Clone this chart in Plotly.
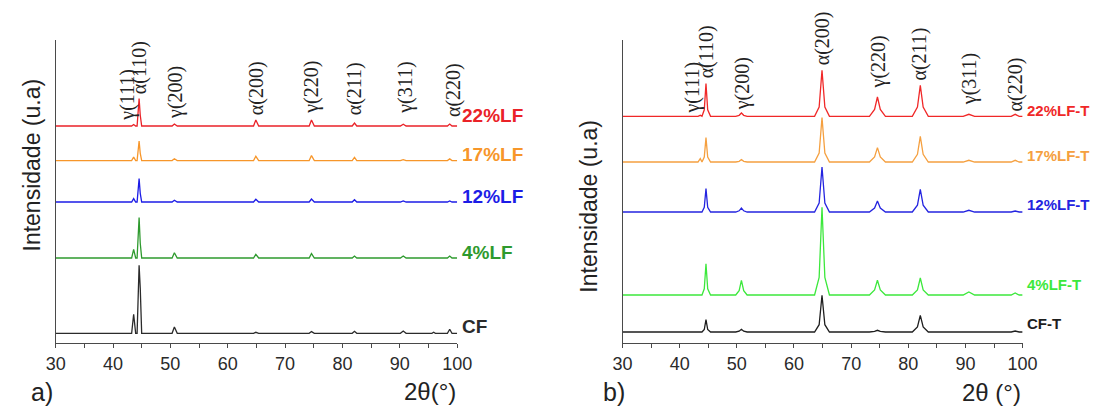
import plotly.graph_objects as go

# ---------------- data: panel a (as-received) ----------------
two_theta_a = [30, 43.25, 43.6, 43.95, 44.2, 44.55, 44.75, 45.0, 50.3, 50.7, 51.2,
               64.5, 64.9, 65.4, 74.2, 74.6, 75.1, 81.7, 82.1, 82.5, 90.1, 90.6, 91.1,
               95.6, 95.9, 96.2, 98.3, 98.7, 99.1, 100]
int_cf = [10, 10, 29, 10, 10, 78, 55, 10, 10, 16.3, 10, 10, 11, 10, 10, 11.7, 10, 10, 12, 10,
          10, 12.3, 10, 10, 11, 10, 10, 14, 10, 10]
int_4lf = [85.3, 85.3, 94, 85.3, 85.3, 125.7, 100, 85.3, 85.3, 90.5, 85.3, 85.3, 89, 85.3, 85.3,
           89.7, 85.3, 85.3, 87.3, 85.3, 85.3, 87.3, 85.3, 85.3, 85.3, 85.3, 85.3, 87.3, 85.3, 85.3]
int_12lf = [141.3, 141.3, 144.7, 141.3, 141.3, 164.7, 150, 141.3, 141.3, 143, 141.3, 141.3, 144,
            141.3, 141.3, 144.3, 141.3, 141.3, 143.6, 141.3, 141.3, 142.3, 141.3, 141.3, 141.3,
            141.3, 141.3, 142.3, 141.3, 141.3]
int_17lf = [182.7, 182.7, 186.3, 182.7, 182.7, 202.3, 190, 182.7, 182.7, 184.5, 182.7, 182.7, 187,
            182.7, 182.7, 187.7, 182.7, 182.7, 186, 182.7, 182.7, 183.7, 182.7, 182.7, 182.7,
            182.7, 182.7, 184.4, 182.7, 182.7]
int_22lf = [217.3, 217.3, 218.8, 217.3, 217.3, 244.7, 228, 217.3, 217.3, 219.3, 217.3, 217.3,
            223.3, 217.3, 217.3, 223.3, 217.3, 217.3, 220.3, 217.3, 217.3, 219, 217.3, 217.3,
            217.3, 217.3, 217.3, 219.3, 217.3, 217.3]

# ---------------- data: panel b (treated, -T) ----------------
two_theta_b = [30, 43.2, 43.6, 43.9, 44.3, 44.6, 44.9, 45.4, 49.8, 50.4, 50.8, 51.2, 51.8,
               63.6, 64.4, 64.9, 65.4, 66.2, 73.2, 74.1, 74.6, 75.1, 76.0, 80.7, 81.6, 82.1,
               82.6, 83.5, 89.6, 90.6, 91.6, 98.0, 98.7, 99.4, 100]
int_cf_t = [11.3, 11.3, 11.3, 11.3, 13.8, 23.7, 13.8, 11.3, 11.3, 12.1, 14, 12.1, 11.3, 11.3,
            18.6, 48, 18.6, 11.3, 11.3, 11.9, 13, 11.9, 11.3, 11.3, 16.3, 28, 16.3, 11.3, 11.3,
            11.5, 11.3, 11.3, 12.3, 11.3, 11.3]
int_4lf_t = [48.3, 48.3, 48.3, 48.3, 54.5, 79.5, 54.5, 48.3, 48.3, 52.7, 63, 52.7, 48.3, 48.3,
             65.8, 136, 65.8, 48.3, 48.3, 53.4, 63, 53.4, 48.3, 48.3, 53.4, 65.3, 53.4, 48.3,
             48.3, 51.3, 48.3, 48.3, 50.3, 48.3, 48.3]
int_12lf_t = [131.3, 131.3, 131.3, 131.3, 136, 154.7, 136, 131.3, 131.3, 132.5, 135.3, 132.5,
              131.3, 131.3, 140.3, 176.3, 140.3, 131.3, 131.3, 135.2, 142.3, 135.2, 131.3, 131.3,
              138.1, 154, 138.1, 131.3, 131.3, 133, 131.3, 131.3, 132.3, 131.3, 131.3]
int_17lf_t = [181.3, 181.3, 184.7, 181.3, 186.2, 205.7, 186.2, 181.3, 181.3, 182, 183.7, 182,
              181.3, 181.3, 190.2, 225.7, 190.2, 181.3, 181.3, 186.3, 195.7, 186.3, 181.3, 181.3,
              189, 207, 189, 181.3, 181.3, 183, 181.3, 181.3, 183, 181.3, 181.3]
int_22lf_t = [227, 227, 228, 227, 233.5, 259.7, 233.5, 227, 227, 228, 230.3, 228, 227, 227, 236.2,
              273, 236.2, 227, 227, 233.8, 246.3, 233.8, 227, 227, 236.3, 258, 236.3, 227, 227,
              229, 227, 227, 229, 227, 227]

# sample names, label heights (intensity units) and colours
names_a = ["CF", "4%LF", "12%LF", "17%LF", "22%LF"]
label_y_a = [17, 91, 147, 189, 228]
names_b = ["CF-T", "4%LF-T", "12%LF-T", "17%LF-T", "22%LF-T"]
label_y_b = [19.6, 59, 138.6, 188, 232.7]
colors_a = ["#2b2b2b", "#2e9a2e", "#1c1ce6", "#f7962a", "#ea2228"]
colors_b = ["#1e1e1e", "#3ce83c", "#2424e0", "#f5a040", "#f02828"]

# reflections (label text, 2θ position, label base height)
peaks_a_text = ["γ(111)", "α(110)", "γ(200)", "α(200)", "γ(220)", "α(211)", "γ(311)", "α(220)"]
peaks_a_x = [42.5, 44.6, 51.0, 64.9, 74.7, 82.1, 91.0, 99.4]
peaks_a_y = [221, 247, 222, 226, 227, 226, 227, 224]
peaks_b_text = ["γ(111)", "α(110)", "γ(200)", "α(200)", "γ(220)", "α(211)", "γ(311)", "α(220)"]
peaks_b_x = [42.2, 44.7, 51.0, 64.9, 74.8, 82.0, 90.6, 98.7]
peaks_b_y = [228, 263, 231, 276, 253, 261, 236, 230]

series_a = [int_cf, int_4lf, int_12lf, int_17lf, int_22lf]
series_b = [int_cf_t, int_4lf_t, int_12lf_t, int_17lf_t, int_22lf_t]

fig = go.Figure()
for nm, ys, c in zip(names_a, series_a, colors_a):
    fig.add_trace(go.Scatter(x=two_theta_a, y=ys, mode="lines", name=nm,
                             line=dict(color=c, width=1.3), xaxis="x", yaxis="y"))
for nm, ys, c in zip(names_b, series_b, colors_b):
    fig.add_trace(go.Scatter(x=two_theta_b, y=ys, mode="lines", name=nm,
                             line=dict(color=c, width=1.3), xaxis="x2", yaxis="y2"))

axcol = "#4a4a4a"
xcommon = dict(range=[30, 100], tick0=30, dtick=10, ticks="outside", ticklen=4, tickwidth=1.2,
               tickcolor=axcol, showline=True, linecolor=axcol, linewidth=1.3, showgrid=False,
               zeroline=False, tickfont=dict(family="Arial, Liberation Sans, sans-serif",
                                             size=18, color="#2a2a2a"),
               minor=dict(dtick=5, ticks="outside", ticklen=4, tickwidth=1.2, tickcolor=axcol,
                          showgrid=False))
ycommon = dict(showline=True, linecolor=axcol, linewidth=1.3, showgrid=False, zeroline=False,
               showticklabels=False, ticks="")

W, H = 1107, 408
fig.update_layout(
    width=W, height=H, margin=dict(l=0, r=0, t=0, b=0),
    paper_bgcolor="white", plot_bgcolor="white", showlegend=False,
    xaxis=dict(domain=[46.7 / W, 457.5 / W], anchor="y", **xcommon),
    yaxis=dict(domain=[64.7 / H, 368 / H], range=[0, 303.3], anchor="x", **ycommon),
    xaxis2=dict(domain=[626.7 / W, 1036 / W], anchor="y2", **xcommon),
    yaxis2=dict(domain=[64.7 / H, 368 / H], range=[0, 303.3], anchor="x2", **ycommon),
)

ann = []
lab_font = "Arial, Liberation Sans, sans-serif"
for nm, yy, c in zip(names_a, label_y_a, colors_a):
    ann.append(dict(x=100, y=yy, xref="x", yref="y", text=f"<b>{nm}</b>", showarrow=False,
                    xanchor="left", yanchor="middle", xshift=3,
                    font=dict(family=lab_font, size=19, color=c)))
for nm, yy, c in zip(names_b, label_y_b, colors_b):
    ann.append(dict(x=100, y=yy, xref="x2", yref="y2", text=f"<b>{nm}</b>", showarrow=False,
                    xanchor="left", yanchor="middle", xshift=2,
                    font=dict(family=lab_font, size=15, color=c)))

serif = "Liberation Serif, Times New Roman, serif"
for t, px, py in zip(peaks_a_text, peaks_a_x, peaks_a_y):
    ann.append(dict(x=px, y=py, xref="x", yref="y", text=t, textangle=-90, showarrow=False,
                    xanchor="center", yanchor="bottom",
                    font=dict(family=serif, size=20, color="#222222")))
for t, px, py in zip(peaks_b_text, peaks_b_x, peaks_b_y):
    ann.append(dict(x=px, y=py, xref="x2", yref="y2", text=t, textangle=-90, showarrow=False,
                    xanchor="center", yanchor="bottom",
                    font=dict(family=serif, size=20, color="#222222")))

# axis titles and panel letters
ann += [
    dict(x=22 / W, y=(H - 165) / H, xref="paper", yref="paper", text="Intensidade (u.a)",
         textangle=-90, showarrow=False, xanchor="center", yanchor="middle",
         font=dict(family=lab_font, size=23, color="#222222")),
    dict(x=592 / W, y=(H - 206) / H, xref="paper", yref="paper", text="Intensidade (u.a)",
         textangle=-90, showarrow=False, xanchor="center", yanchor="middle",
         font=dict(family=lab_font, size=23, color="#222222")),
    dict(x=458 / W, y=(H - 391) / H, xref="paper", yref="paper", text="2θ(°)",
         showarrow=False, xanchor="right", yanchor="middle",
         font=dict(family=lab_font, size=24, color="#222222")),
    dict(x=1036 / W, y=(H - 392) / H, xref="paper", yref="paper", text="2θ (°)",
         showarrow=False, xanchor="right", yanchor="middle",
         font=dict(family=lab_font, size=24, color="#222222")),
    dict(x=19 / W, y=(H - 392) / H, xref="paper", yref="paper", text="a)",
         showarrow=False, xanchor="left", yanchor="middle",
         font=dict(family=lab_font, size=25, color="#222222")),
    dict(x=605 / W, y=(H - 392) / H, xref="paper", yref="paper", text="b)",
         showarrow=False, xanchor="left", yanchor="middle",
         font=dict(family=lab_font, size=25, color="#222222")),
]
fig.update_layout(annotations=ann)
fig.write_html("out.html", config={"displayModeBar": False},
               post_script="document.body.style.margin='0';document.body.style.overflow='hidden';")
